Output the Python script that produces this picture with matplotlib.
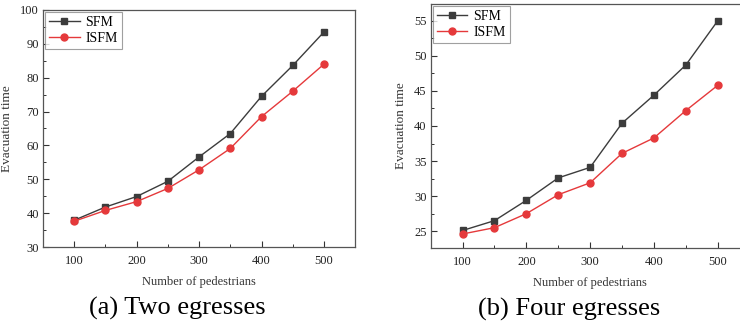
import matplotlib.pyplot as plt
from matplotlib.ticker import MultipleLocator

plt.rcParams['font.family'] = 'serif'
plt.rcParams['font.serif'] = ['Liberation Serif', 'DejaVu Serif']

pedestrians = [100, 150, 200, 250, 300, 350, 400, 450, 500]

# (a) two egresses
sfm_two = [37.9, 41.8, 44.9, 49.4, 56.6, 63.5, 74.5, 83.6, 93.5]
isfm_two = [37.6, 40.8, 43.4, 47.3, 52.8, 59.1, 68.5, 76.0, 84.0]

# (b) four egresses
sfm_four = [25.1, 26.5, 29.4, 32.6, 34.1, 40.4, 44.4, 48.7, 55.0]
isfm_four = [24.6, 25.5, 27.5, 30.2, 31.9, 36.1, 38.3, 42.2, 45.8]

sfm_color = "#3c3c3c"
isfm_color = "#e5393b"

fig = plt.figure(figsize=(7.4, 3.32), dpi=100)
ax1 = fig.add_axes([0.058, 0.256, 0.422, 0.714])
ax2 = fig.add_axes([0.582, 0.253, 0.431, 0.735])


def style_axes(ax, ylim, ymajor, yminor):
    ax.set_xlim(50, 550)
    ax.set_ylim(*ylim)
    ax.xaxis.set_major_locator(MultipleLocator(100))
    ax.xaxis.set_minor_locator(MultipleLocator(50))
    ax.yaxis.set_major_locator(MultipleLocator(ymajor))
    ax.yaxis.set_minor_locator(MultipleLocator(yminor))
    ax.tick_params(which="both", direction="in", labelsize=9, colors="#333333",
                   labelcolor="#222222")
    ax.tick_params(axis="x", pad=6)
    ax.tick_params(axis="y", pad=3)
    ax.tick_params(which="major", length=4, width=0.8)
    ax.tick_params(which="minor", length=2.5, width=0.7)
    for sp in ax.spines.values():
        sp.set_color("#555555")
        sp.set_linewidth(0.9)
    ax.set_xlabel("Number of pedestrians", fontsize=9, labelpad=6, color="#333333")
    ax.set_ylabel("Evacuation time", fontsize=9.5, labelpad=5, color="#333333")


for ax, sfm, isfm, ylim, ymaj, ymin in [
    (ax1, sfm_two, isfm_two, (30, 100), 10, 5),
    (ax2, sfm_four, isfm_four, (22.6, 57.4), 5, 2.5),
]:
    ax.plot(pedestrians, sfm, color=sfm_color, marker="s", markersize=4.5,
            linewidth=1.0, label="SFM")
    ax.plot(pedestrians, isfm, color=isfm_color, marker="o", markersize=5,
            linewidth=1.0, label="ISFM")
    style_axes(ax, ylim, ymaj, ymin)
    leg = ax.legend(loc="upper left", fontsize=10, frameon=True, fancybox=False,
                    borderaxespad=0.15, handlelength=2.2, handletextpad=0.4,
                    borderpad=0.3, labelspacing=0.2)
    leg.get_frame().set_edgecolor("#888888")
    leg.get_frame().set_linewidth(0.8)

fig.text(0.240, 0.07, "(a) Two egresses", ha="center", va="center", fontsize=19)
fig.text(0.769, 0.067, "(b) Four egresses", ha="center", va="center", fontsize=19)

fig.savefig("out.png", dpi=100)
